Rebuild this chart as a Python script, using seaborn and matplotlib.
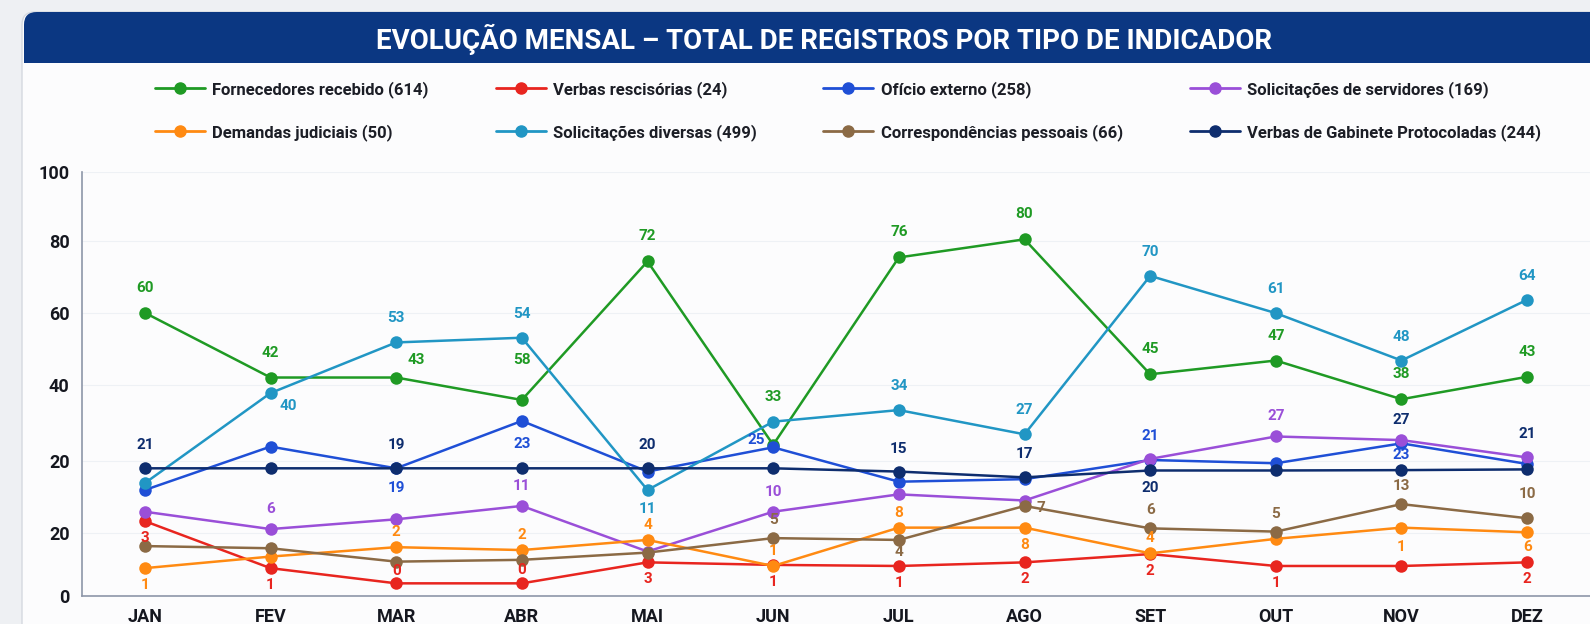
import pandas as pd
import seaborn as sns
import matplotlib.pyplot as plt
from matplotlib.lines import Line2D
from matplotlib.patches import FancyBboxPatch, Rectangle

# === Data ===
months = ["JAN", "FEV", "MAR", "ABR", "MAI", "JUN", "JUL", "AGO", "SET", "OUT", "NOV", "DEZ"]

fornecedores = [78.3, 60.4, 60.4, 54.2, 92.5, 41.8, 93.6, 98.6, 61.3, 65.1, 54.4, 60.6]
verbas_resc = [20.7, 7.7, 3.5, 3.5, 9.3, 8.6, 8.3, 9.3, 11.6, 8.3, 8.3, 9.3]
oficio = [29.3, 41.3, 35.3, 48.4, 34.4, 41.1, 31.6, 32.3, 37.6, 36.7, 42.2, 36.5]
solic_serv = [23.3, 18.5, 21.2, 24.9, 12.3, 23.3, 28.1, 26.4, 37.9, 44.1, 43.1, 38.3]
demandas = [7.7, 10.9, 13.5, 12.7, 15.5, 8.3, 18.9, 18.9, 11.8, 15.8, 18.9, 17.6]
solic_div = [31.2, 56.1, 70.1, 71.4, 29.3, 48.2, 51.4, 44.7, 88.5, 78.2, 65.1, 81.9]
corresp = [13.8, 13.2, 9.5, 10.0, 12.0, 16.0, 15.5, 24.9, 18.7, 17.8, 25.4, 21.5]
verbas_gab = [35.3, 35.3, 35.3, 35.3, 35.3, 35.3, 34.4, 32.8, 34.7, 34.7, 34.8, 35.0]

# the numbers printed next to the points ("" = none visible)
lbl_fornecedores = ["60", "42", "43", "58", "72", "33", "76", "80", "45", "47", "38", "43"]
lbl_verbas_resc = ["3", "1", "0", "0", "3", "1", "1", "2", "2", "1", "", "2"]
lbl_oficio = ["", "", "19", "23", "", "25", "", "", "21", "", "23", ""]
lbl_solic_serv = ["", "6", "", "11", "", "10", "", "", "", "27", "", ""]
lbl_demandas = ["1", "", "2", "2", "4", "1", "8", "8", "4", "", "1", "6"]
lbl_solic_div = ["", "40", "53", "54", "11", "", "34", "27", "70", "61", "48", "64"]
lbl_corresp = ["", "", "", "", "", "5", "4", "7", "6", "5", "13", "10"]
lbl_verbas_gab = ["21", "", "19", "", "20", "", "15", "17", "20", "", "27", "21"]

ytick_pos = [0, 17.4, 37.3, 58.2, 78.3, 98.2, 117.3]
ytick_labels = ["0", "20", "20", "40", "60", "80", "100"]

names = [
    "Fornecedores recebido (614)", "Verbas rescisórias (24)", "Ofício externo (258)",
    "Solicitações de servidores (169)", "Demandas judiciais (50)", "Solicitações diversas (499)",
    "Correspondências pessoais (66)", "Verbas de Gabinete Protocoladas (244)",
]
values = [fornecedores, verbas_resc, oficio, solic_serv, demandas, solic_div, corresp, verbas_gab]
point_labels = [lbl_fornecedores, lbl_verbas_resc, lbl_oficio, lbl_solic_serv,
                lbl_demandas, lbl_solic_div, lbl_corresp, lbl_verbas_gab]
colors = ["#1f9a24", "#e8251f", "#1f4fd6", "#9a4fd8", "#ff8a12", "#2196c4", "#8b6a45", "#0e2d6e"]
palette = dict(zip(names, colors))

df = pd.DataFrame({
    "mes": months * len(names),
    "serie": [n for n in names for _ in months],
    "valor": [v for vals in values for v in vals],
})

# === Label placement (pixels, dy>0 = above) ===
default_dy = [25, -17, -20, 20, 15, 24, 18, 23]
overrides = {
    (0, 2): (20, 18), (0, 3): (0, 40), (0, 5): (0, 48),
    (1, 2): (0, 12), (1, 3): (0, 13),
    (2, 3): (0, -23), (2, 5): (-17, 7), (2, 8): (0, 24), (2, 10): (0, -12),
    (4, 0): (0, -17), (4, 7): (0, -17), (4, 10): (0, -19), (4, 11): (0, -15),
    (5, 1): (18, -13), (5, 4): (0, -19),
    (6, 6): (0, -12), (6, 7): (16, -2), (6, 11): (0, 24),
    (7, 8): (0, -18), (7, 10): (0, 50), (7, 11): (0, 35),
}

# === Figure ===
sns.set_theme(style="white")
plt.rcParams['font.family'] = ['Roboto', 'DejaVu Sans']

W, H = 1590, 624
fig = plt.figure(figsize=(W / 100, H / 100), dpi=100)
fig.patch.set_facecolor("#eef0f3")
asp = W / H

card = FancyBboxPatch((22 / W, -0.1), 1.1, 1.1 - 12 / H, boxstyle="round,pad=0,rounding_size=0.008",
                      mutation_aspect=asp, transform=fig.transFigure, fc="#fcfcfd", ec="#d5d9e0",
                      lw=1, zorder=-3)
fig.patches.append(card)
banner = FancyBboxPatch((24 / W, 1 - 63 / H), 1.1, 51 / H, boxstyle="round,pad=0,rounding_size=0.008",
                        mutation_aspect=asp, transform=fig.transFigure, fc="#0b3782", ec="none",
                        zorder=-2)
fig.patches.append(banner)
fig.patches.append(Rectangle((24 / W, 1 - 63 / H), 1.1, 20 / H, transform=fig.transFigure,
                             fc="#0b3782", ec="none", zorder=-2))
fig.text(0.518, 1 - 39 / H, "EVOLUÇÃO MENSAL – TOTAL DE REGISTROS POR TIPO DE INDICADOR",
         color="white", fontsize=20, fontweight="bold", ha="center", va="center")

ax = fig.add_axes([82 / W, 1 - 596 / H, 1 - 82 / W, (596 - 171.7) / H])
ax.set_facecolor("none")

sns.lineplot(data=df, x="mes", y="valor", hue="serie", hue_order=names, palette=palette,
             marker="o", markersize=9, markeredgewidth=0, linewidth=1.8, sort=False,
             legend=False, ax=ax)

for i, (vals, lbls) in enumerate(zip(values, point_labels)):
    for j, (v, t) in enumerate(zip(vals, lbls)):
        if not t:
            continue
        dx, dy = overrides.get((i, j), (0, default_dy[i]))
        ax.annotate(t, (j, v), xytext=(dx, dy), textcoords="offset pixels",
                    ha="center", va="center", color=colors[i], fontsize=11, fontweight="bold")

ax.set_xlim(-0.44, 11.42)
ax.set_ylim(0, 117.3)
ax.set_xticks(range(len(months)), months)
ax.set_xticks([k + 0.5 for k in range(-1, len(months))], minor=True)
ax.set_yticks(ytick_pos, ytick_labels)
ax.set_yticks([(a + b) / 2 for a, b in zip(ytick_pos[:-1], ytick_pos[1:])], minor=True)
ax.set_xlabel("")
ax.set_ylabel("")
for s in ["top", "right"]:
    ax.spines[s].set_visible(False)
for s in ["left", "bottom"]:
    ax.spines[s].set_color("#8d96a8")
    ax.spines[s].set_linewidth(1.2)
ax.tick_params(axis="both", which="major", length=5, color="#8d96a8", labelsize=13,
               labelcolor="#15171f", pad=4)
ax.tick_params(axis="both", which="minor", length=3, color="#8d96a8")
for lab in ax.get_xticklabels() + ax.get_yticklabels():
    lab.set_fontweight("bold")
ax.yaxis.grid(True, color="#eef1f5", lw=0.8)
ax.set_axisbelow(True)

# === Legend (2 rows x 4 columns, filled column by column) ===
order = [0, 4, 1, 5, 2, 6, 3, 7]
handles = [Line2D([], [], color=colors[k], marker="o", markersize=8, lw=2) for k in order]
fig.legend(handles, [names[k] for k in order], ncol=4, loc="upper left",
           bbox_to_anchor=(140 / W, 1 - 66 / H), frameon=False,
           prop={"family": ["Roboto", "DejaVu Sans"], "weight": "bold", "size": 12},
           handlelength=3.0, handletextpad=0.45, columnspacing=4.0, labelspacing=1.55,
           labelcolor="#1c1e26")

fig.savefig("out.png", dpi=100)
